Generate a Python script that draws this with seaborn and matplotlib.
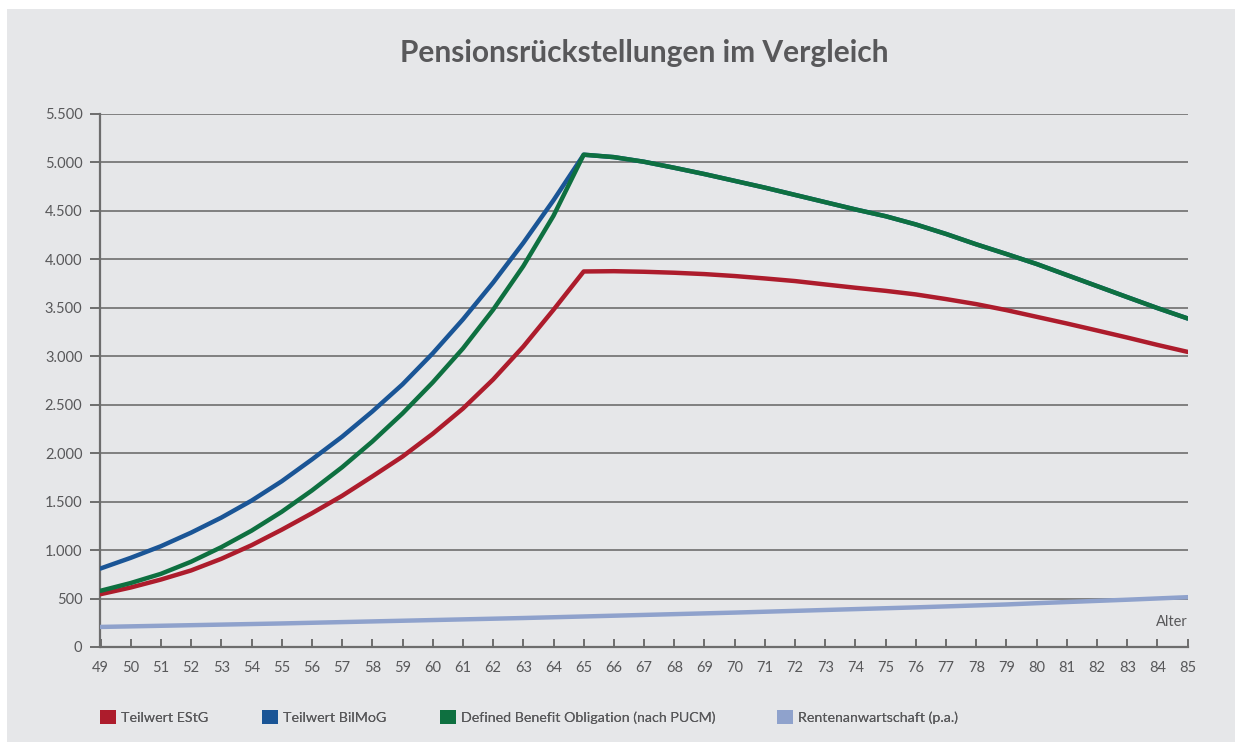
"""Pensionsrückstellungen im Vergleich - line chart."""
import matplotlib
matplotlib.use("Agg")
import matplotlib.pyplot as plt
from matplotlib.patches import Patch, Rectangle
from matplotlib.ticker import FuncFormatter, MultipleLocator
import pandas as pd
import seaborn as sns

ages = list(range(49, 86))

teilwert_estg = [545, 614, 696, 790, 910, 1050, 1210, 1380, 1560, 1760, 1965,
                 2200, 2460, 2760, 3100, 3480, 3875,
                 3878, 3872, 3862, 3848, 3828, 3803, 3776, 3741, 3707, 3675,
                 3638, 3590, 3538, 3476, 3407, 3338, 3266, 3193, 3117, 3045]
teilwert_bilmog = [810, 920, 1040, 1180, 1335, 1510, 1710, 1935, 2170, 2430, 2710,
                   3030, 3380, 3760, 4170, 4610, 5080,
                   5055, 5007, 4945, 4880, 4810, 4740, 4665, 4590, 4515, 4445,
                   4360, 4262, 4155, 4055, 3952, 3838, 3724, 3610, 3497, 3390]
dbo_pucm = [580, 660, 755, 880, 1030, 1200, 1395, 1615, 1855, 2120, 2410,
            2730, 3080, 3480, 3930, 4450, 5080,
            5055, 5007, 4945, 4880, 4810, 4740, 4665, 4590, 4515, 4445,
            4360, 4262, 4155, 4055, 3952, 3838, 3724, 3610, 3497, 3390]
rentenanwartschaft = [207, 213, 219, 225, 231, 237, 243, 250, 257, 264, 271,
                      278, 285, 292, 299, 307, 315,
                      323, 331, 339, 347, 355, 364, 373, 382, 391, 400,
                      409, 419, 429, 439, 452, 464, 476, 488, 501, 514]

series_names = ["Teilwert EStG", "Teilwert BilMoG",
                "Defined Benefit Obligation (nach PUCM)", "Rentenanwartschaft (p.a.)"]
series_colors = ["#ad1c2c", "#1a5596", "#0e7040", "#8fa2cc"]

frames = []
for name, values in zip(series_names, [teilwert_estg, teilwert_bilmog, dbo_pucm, rentenanwartschaft]):
    frames.append(pd.DataFrame({"Alter": ages, "Wert": values, "Reihe": name}))
df = pd.concat(frames, ignore_index=True)

sns.set_theme(style="white")
plt.rcParams["font.family"] = ["Lato", "DejaVu Sans"]

text_color = "#58585a"
grid_color = "#808080"
bg_color = "#e6e7e9"

fig = plt.figure(figsize=(12.35, 7.42), dpi=100, facecolor="white")
fig.patches.append(Rectangle((7 / 1235, 0), 1228 / 1235, 733 / 742,
                             transform=fig.transFigure, facecolor=bg_color,
                             edgecolor="none", zorder=-10))

ax = fig.add_axes([100.5 / 1235, 95 / 742, 1087.2 / 1235, 533 / 742])
ax.set_facecolor("none")

# draw light line first so the others sit on top
order = [series_names[3], series_names[0], series_names[1], series_names[2]]
sns.lineplot(data=df, x="Alter", y="Wert", hue="Reihe", hue_order=order,
             palette=dict(zip(series_names, series_colors)), linewidth=3.2,
             legend=False, ax=ax, zorder=3)

ax.set_xlim(49, 85)
ax.set_ylim(0, 5500)
ax.xaxis.set_major_locator(MultipleLocator(1))
ax.yaxis.set_major_locator(MultipleLocator(500))
ax.yaxis.set_major_formatter(FuncFormatter(lambda v, _: f"{int(v):,}".replace(",", ".")))

ax.grid(axis="y", color=grid_color, linewidth=1.4, zorder=1)
ax.set_axisbelow(True)
for side in ["top", "right"]:
    ax.spines[side].set_visible(False)
for side in ["left", "bottom"]:
    ax.spines[side].set_color("#6d6d6d")
    ax.spines[side].set_linewidth(1.6)

ax.tick_params(axis="y", direction="out", length=7, width=1.4, color="#6d6d6d",
               labelsize=10.5, labelcolor=text_color, pad=6, left=True)
ax.tick_params(axis="x", direction="in", length=6, width=1.4, color="#6d6d6d",
               labelsize=10.5, labelcolor=text_color, pad=10, bottom=True)
ax.set_xlabel("")
ax.set_ylabel("")

ax.text(1.0, 0.047, "Alter", transform=ax.transAxes, ha="right", va="center",
        fontsize=10.5, color=text_color)

fig.text(0.522, 0.928, "Pensionsrückstellungen im Vergleich", ha="center", va="center",
         fontsize=21.5, fontweight="bold", color=text_color)

# one legend entry per item so each sits where the original places it
legend_x = [100, 262, 440, 777]
for x, name, color in zip(legend_x, series_names, series_colors):
    leg = fig.legend([Patch(facecolor=color, edgecolor="none")], [name],
                     loc="center left", bbox_to_anchor=(x / 1235, 1 - 717 / 742),
                     frameon=False, fontsize=10.3, labelcolor=text_color,
                     borderpad=0, borderaxespad=0,
                     handlelength=1.1, handleheight=1.1, handletextpad=0.4)
    fig.add_artist(leg)

fig.savefig("out.png", dpi=100, facecolor=fig.get_facecolor())
